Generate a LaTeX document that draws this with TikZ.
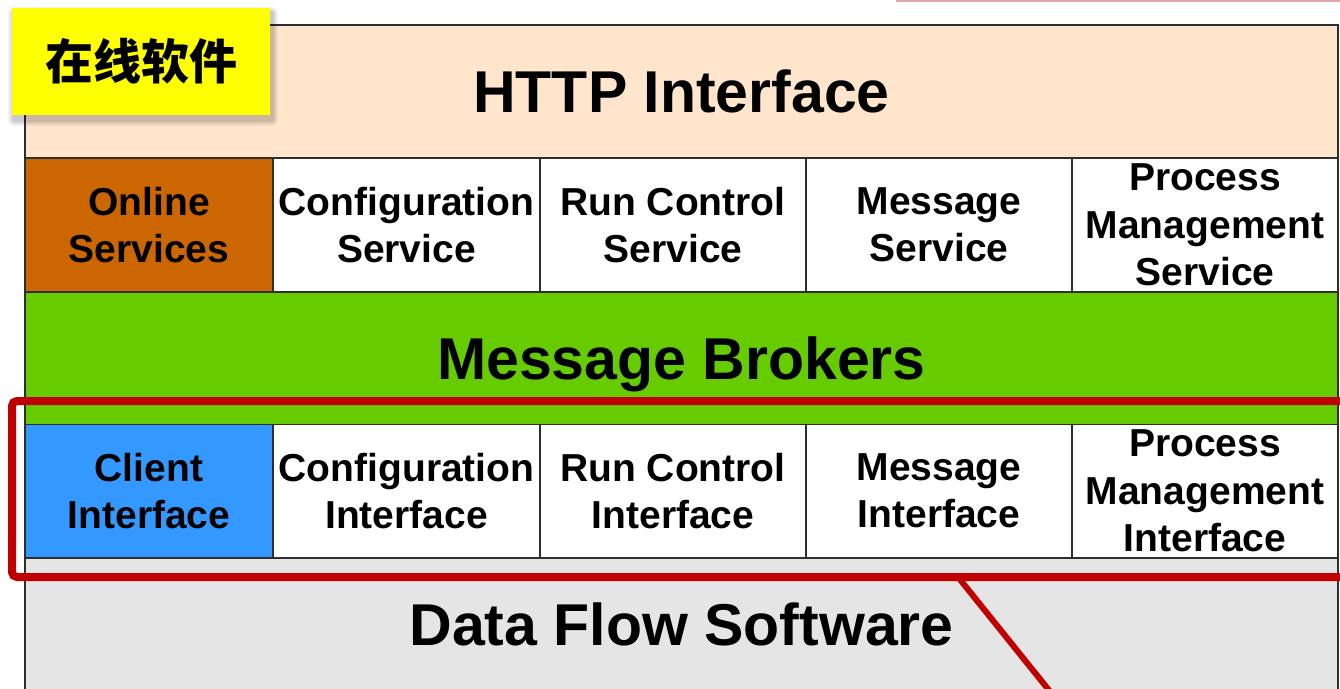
\documentclass[tikz,border=0pt]{standalone}
\usepackage{fontspec}
\setmainfont{Liberation Sans}
\newfontfamily\cjk{Noto Sans CJK SC}

\definecolor{edge}{HTML}{2E2E2E}
\definecolor{peach}{HTML}{FFE5CC}
\definecolor{rust}{HTML}{CC6600}
\definecolor{lime}{HTML}{66CC00}
\definecolor{sky}{HTML}{3399FF}
\definecolor{ash}{HTML}{E5E5E5}
\definecolor{mark}{HTML}{C00000}
\definecolor{rose}{HTML}{E2A8A8}
\definecolor{tag}{HTML}{FFFF00}

\tikzset{
  layer/.style={draw=edge, line width=1.5pt, inner sep=0pt,
    minimum width=1313pt, text depth=0pt,
    font=\fontsize{59}{70}\selectfont\bfseries},
  cell/.style={draw=edge, line width=1.5pt, inner sep=0pt, align=center,
    minimum height=133pt,
    font=\fontsize{39}{47.5}\selectfont\bfseries},
  redline/.style={draw=mark, line width=8pt},
  tagbox/.style={fill=tag, inner sep=0pt, minimum width=258pt,
    minimum height=107pt, font=\cjk\bfseries\fontsize{48}{56}\selectfont}
}

\begin{document}
\begin{tikzpicture}[x=1pt,y=-1pt]
\clip (0,0) rectangle (1340,688);
\fill[white] (0,0) rectangle (1340,688);

% thin rule along the top edge
\draw[rose, line width=2.5pt] (896,1) -- (1345,1);

% horizontal layers
\node[layer, fill=peach, minimum height=133pt] (http) at (681.5,91.5) {HTTP Interface};
\node[layer, fill=lime, minimum height=133pt] (broker) at (681.5,358.5) {Message Brokers};
\node[layer, fill=ash, minimum height=160pt, anchor=north] (dataflow) at (681.5,557) {};
\node[font=\fontsize{59}{70}\selectfont\bfseries, text depth=0pt] (dftext) at (681.5,624) {Data Flow Software};

% service row
\node[cell, fill=rust, minimum width=248pt] (online) at (149,225) {Online\\Services};
\node[cell, fill=white, minimum width=267pt] (cfgsvc) at (406.5,225) {Configuration\\Service};
\node[cell, fill=white, minimum width=266pt] (runsvc) at (673,225) {Run Control\\Service};
\node[cell, fill=white, minimum width=266pt] (msgsvc) at (939,225) {Message\\Service};
\node[cell, fill=white, minimum width=266pt] (procsvc) at (1205,225) {Process\\Management\\Service};

% interface row
\node[cell, fill=sky, minimum width=248pt] (client) at (149,491) {Client\\Interface};
\node[cell, fill=white, minimum width=267pt] (cfgif) at (406.5,491) {Configuration\\Interface};
\node[cell, fill=white, minimum width=266pt] (runif) at (673,491) {Run Control\\Interface};
\node[cell, fill=white, minimum width=266pt] (msgif) at (939,491) {Message\\Interface};
\node[cell, fill=white, minimum width=266pt] (procif) at (1205,491) {Process\\Management\\Interface};

% highlight around the interface row, with its callout line
\coordinate (hl-ne) at (1360,401);
\coordinate (hl-nw) at (12,401);
\coordinate (hl-sw) at (12,577);
\coordinate (hl-se) at (1360,577);
\draw[redline, rounded corners=5pt] (hl-ne) -- (hl-nw) -- (hl-sw) -- (hl-se);
\coordinate (callout-a) at (958,577);
\coordinate (callout-b) at (1060,704);
\draw[draw=mark, line width=6pt] (callout-a) -- (callout-b);

% title tag with a soft shadow
\foreach \g/\o in {6/0.05,4/0.07,2/0.09}{
  \fill[black, opacity=\o, rounded corners=\g pt]
    (12-\g+2,8-\g+5) rectangle (270+\g+2,115+\g+5);
}
\node[tagbox] (title) at (141,61.5) {在线软件};
\end{tikzpicture}
\end{document}
